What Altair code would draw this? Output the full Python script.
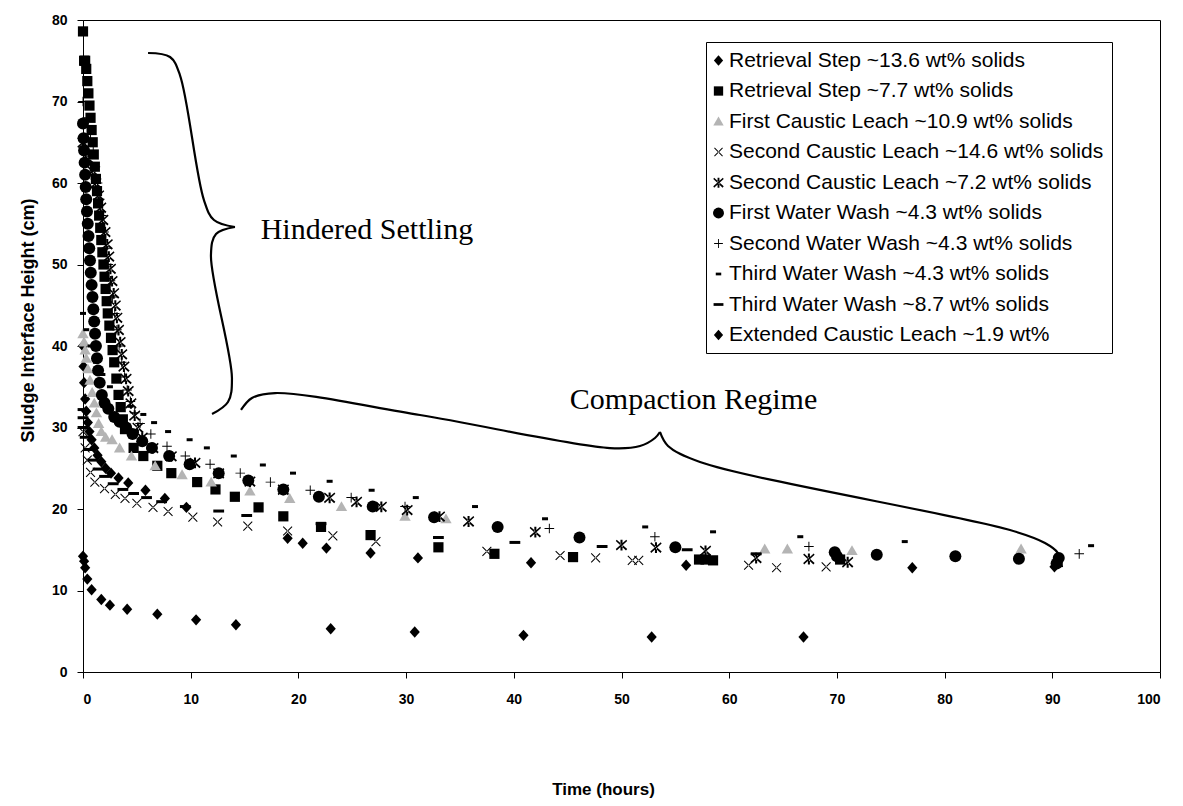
import altair as alt
import pandas as pd

# ---------------- series data (time in hours, height in cm) ----------------
NAMES = [
    "Retrieval Step ~13.6 wt% solids",
    "Retrieval Step ~7.7 wt% solids",
    "First Caustic Leach ~10.9 wt% solids",
    "Second Caustic Leach ~14.6 wt% solids",
    "Second Caustic Leach ~7.2 wt% solids",
    "First Water Wash ~4.3 wt% solids",
    "Second Water Wash ~4.3 wt% solids",
    "Third Water Wash ~4.3 wt% solids",
    "Third Water Wash ~8.7 wt% solids",
    "Extended Caustic Leach ~1.9 wt%",
]

RS136_T = [0, 0.05, 0.1, 0.2, 0.3, 0.45, 0.6, 0.8, 1.05, 1.35, 1.7, 2.1, 2.6, 3.3, 4.2, 5.8, 7.6, 9.6,
           19, 20.4, 22.6, 26.7, 31.1, 41.6, 56, 77, 90.2]
RS136_H = [40, 37.5, 35.5, 33.5, 32, 30.6, 29.5, 28.5, 27.5, 26.6, 25.8, 25, 24.4, 23.8, 23.2, 22.3, 21.3, 20.2,
           16.4, 15.8, 15.2, 14.6, 14.0, 13.4, 13.1, 12.8, 12.9]

RS77_T = [0, 0.1, 0.2, 0.3, 0.4, 0.5, 0.6, 0.7, 0.8, 0.9, 1.0, 1.1, 1.2, 1.3, 1.4, 1.5, 1.6, 1.7, 1.8, 1.9,
          2.0, 2.1, 2.2, 2.3, 2.45, 2.6, 2.75, 2.9, 3.1, 3.3, 3.5, 3.7, 3.9, 4.7, 5.6, 6.9, 8.2, 10.6, 12.3,
          14.1, 16.3, 18.6, 22.1, 26.7, 33, 38.2, 45.5, 57.2, 57.8, 58.5, 70.3]
RS77_H = [78.6, 75, 75, 74, 72.5, 71, 69.5, 68, 66.5, 65, 63.5, 62, 60.5, 59, 57.5, 56, 54.5, 53, 51.5, 50,
          48.5, 47, 45.5, 44, 42.5, 41, 39.5, 38, 36, 34, 32.5, 31, 29.8, 27.5, 26.5, 25.3, 24.4, 23.3, 22.4,
          21.5, 20.2, 19.1, 17.8, 16.8, 15.3, 14.5, 14.1, 13.8, 13.8, 13.7, 13.8]

FCL_T = [0, 0.1, 0.2, 0.3, 0.45, 0.65, 0.85, 1.05, 1.25, 1.45, 1.7, 2.1, 2.7, 3.4, 4.5, 6.7, 9.2, 11.9, 15.5,
         19.2, 24, 29.9, 33.7, 63.3, 65.4, 71.4, 87.1]
FCL_H = [41.5, 40.5, 39.5, 38.5, 37.2, 35.8, 34.3, 33, 31.8, 30.5, 29.5, 28.8, 28.5, 27.5, 26.5, 25.3, 24.2,
         23.3, 22.2, 21.3, 20.3, 19.1, 18.8, 15.1, 15.1, 14.9, 15.1]

SCL146_T = [0, 0.2, 0.4, 0.7, 1.1, 2.0, 3.0, 3.9, 5.0, 6.5, 7.9, 10.2, 12.5, 15.3, 19.0, 23.2, 27.2, 37.5,
            44.3, 47.6, 51.0, 51.6, 61.8, 64.4, 69.0]
SCL146_H = [29.5, 27.5, 26, 24.5, 23.3, 22.5, 21.8, 21.3, 20.7, 20.2, 19.7, 19.0, 18.4, 17.9, 17.3, 16.7,
            16.0, 14.8, 14.3, 14.0, 13.7, 13.7, 13.1, 12.8, 12.9]

SCL72_T = [0, 0.5, 0.9, 1.2, 1.45, 1.65, 1.85, 2.05, 2.25, 2.4, 2.55, 2.7, 2.85, 3.0, 3.15, 3.3, 3.45, 3.6,
           3.8, 4.0, 4.2, 4.45, 4.8, 5.1, 5.5, 6.5, 8.2, 10.4, 12.6, 15.5, 18.6, 22.9, 25.4, 27.7, 30.1,
           33.1, 35.8, 42, 50, 53.2, 57.8, 62.5, 67.4, 71]
SCL72_H = [65, 63, 61.5, 60, 58.5, 57, 55.5, 54, 52.5, 51, 49.5, 48, 46.5, 45, 43.5, 42, 40.5, 39, 37.5, 36,
           34.5, 33, 31.5, 30, 28.8, 27.5, 26.5, 25.7, 24.4, 23.4, 22.4, 21.4, 20.9, 20.3, 19.9, 19.1, 18.5,
           17.2, 15.6, 15.3, 14.9, 14.0, 13.9, 13.5]

FWW_T = [0, 0.05, 0.1, 0.15, 0.2, 0.25, 0.3, 0.37, 0.44, 0.51, 0.58, 0.65, 0.72, 0.8, 0.88, 0.96, 1.04, 1.12,
         1.2, 1.3, 1.4, 1.55, 1.75, 2.0, 2.35, 2.9, 3.4, 4.0, 4.6, 5.5, 6.4, 8.0, 9.9, 12.6, 15.35, 18.6,
         21.9, 26.9, 32.6, 38.5, 46.1, 55, 69.8, 70, 73.7, 81, 86.9, 90.6, 90.4]
FWW_H = [67.3, 65.5, 64, 62.5, 61, 59.5, 58, 56.5, 55, 53.5, 52, 50.5, 49, 47.5, 46, 44.5, 43, 41.5, 40,
         38.5, 37, 35.5, 34, 33, 32.3, 31.3, 30.7, 30, 29.2, 28.3, 27.5, 26.5, 25.5, 24.4, 23.5, 22.4, 21.5,
         20.3, 19.0, 17.8, 16.5, 15.3, 14.7, 14.2, 14.4, 14.2, 13.9, 14.0, 13.3]

SWW_T = [0, 0.4, 0.7, 0.95, 1.15, 1.35, 1.55, 1.75, 1.95, 2.15, 2.35, 2.55, 2.75, 2.95, 3.15, 3.35, 3.6,
         3.85, 4.1, 4.4, 4.8, 5.3, 6.3, 7.8, 9.5, 11.8, 14.6, 17.4, 21.1, 24.9, 29.9, 43.3, 53.1, 67.4, 92.5]
SWW_H = [70, 68, 66, 64, 62, 60, 58, 56, 54, 52, 50, 48, 46, 44, 42, 40, 38, 36.2, 34.6, 33.2, 31.8, 30.5,
         29.2, 27.7, 26.5, 25.5, 24.4, 23.3, 22.3, 21.4, 20.3, 17.6, 16.6, 15.4, 14.5]

TWW43_T = [0, 0.3, 0.7, 1.2, 1.8, 2.5, 3.3, 4.4, 5.6, 6.6, 7.9, 9.9, 11.5, 14, 16.7, 19.5, 22.9, 26.8, 30.9,
           36.4, 42.9, 52.2, 58.5, 66.6, 76.3, 93.6]
TWW43_H = [44, 42, 40, 38, 36.5, 35, 33.7, 32.6, 31.6, 30.6, 29.5, 28.5, 27.5, 26.5, 25.4, 24.4, 23.4, 22.3,
           21.4, 20.3, 18.8, 17.8, 17.2, 16.6, 16.0, 15.5]

TWW87_T = [0, 0, 0, 0.2, 0.5, 0.9, 1.4, 2, 2.8, 3.7, 4.7, 5.9, 7.3, 9.5, 12.6, 15.2, 22.1, 33, 40.1, 48.2,
           56.1, 62.5]
TWW87_H = [32.2, 31.2, 30, 28.8, 27.3, 26, 24.9, 24, 23.1, 22.4, 21.9, 21.4, 20.9, 20.3, 19.75, 19.2, 18.2,
           16.5, 15.9, 15.4, 15.0, 14.5]

ECL_T = [0, 0.1, 0.2, 0.4, 0.8, 1.7, 2.5, 4.1, 6.9, 10.5, 14.2, 23, 30.8, 40.9, 52.8, 66.9]
ECL_H = [14.2, 13.6, 12.8, 11.4, 10.1, 8.9, 8.2, 7.7, 7.1, 6.4, 5.8, 5.3, 4.9, 4.5, 4.3, 4.3]

SERIES_T = [RS136_T, RS77_T, FCL_T, SCL146_T, SCL72_T, FWW_T, SWW_T, TWW43_T, TWW87_T, ECL_T]
SERIES_H = [RS136_H, RS77_H, FCL_H, SCL146_H, SCL72_H, FWW_H, SWW_H, TWW43_H, TWW87_H, ECL_H]

# marker glyphs (unit paths) and colours
SHAPES = [
    "M0,-0.95L0.85,0L0,0.95L-0.85,0Z",
    "M-0.85,-0.85L0.85,-0.85L0.85,0.85L-0.85,0.85Z",
    "M0,-0.9L0.95,0.75L-0.95,0.75Z",
    "M-0.68,-0.8L-0.8,-0.68L0.68,0.8L0.8,0.68Z M0.8,-0.68L-0.68,0.8L-0.8,0.68L0.68,-0.8Z",
    "M-0.8,-0.85L-0.95,-0.65L0.75,0.95L0.95,0.7Z M0.95,-0.65L-0.8,0.95L-0.95,0.7L0.8,-0.85Z M-0.17,-0.85L0.17,-0.85L0.17,0.95L-0.17,0.95Z",
    "circle",
    "M-0.8,-0.08L0.8,-0.08L0.8,0.08L-0.8,0.08Z M-0.08,-0.8L0.08,-0.8L0.08,0.8L-0.08,0.8Z",
    "M-0.5,-0.25L0.5,-0.25L0.5,0.25L-0.5,0.25Z",
    "M-0.9,-0.25L0.9,-0.25L0.9,0.25L-0.9,0.25Z",
    "M0,-0.95L0.85,0L0,0.95L-0.85,0Z",
]
COLORS = ["#000000", "#000000", "#b4b4b4", "#000000", "#000000", "#000000", "#000000", "#000000",
          "#000000", "#000000"]

# brace annotations (data units)
BRACE1_T = [6.04, 8.08, 9.0, 11.23, 12.16, 14.11]
BRACE1_H = [75.95, 75.46, 73.25, 57.9, 55.46, 54.6]
BRACE1B_T = [14.11, 12.35, 11.88, 13.83, 13.46, 11.98]
BRACE1B_H = [54.6, 53.74, 51.17, 36.07, 33.13, 31.66]
BRACE2_T = [14.67, 15.69, 17.83, 31.29, 48.93, 51.72, 53.11, 53.57]
BRACE2_H = [32.15, 33.62, 34.23, 31.53, 27.48, 27.73, 28.71, 29.45]
BRACE2B_T = [53.57, 54.32, 57.29, 86.07, 89.32, 90.53, 90.9]
BRACE2B_H = [29.45, 27.73, 25.77, 17.42, 15.83, 14.6, 12.88]

LABELS = ["Hindered Settling", "Compaction  Regime"]
LABEL_T = [16.5, 45.2]
LABEL_H = [54.2, 33.4]

# ---------------- build tables ----------------
rows = []
for name, ts, hs in zip(NAMES, SERIES_T, SERIES_H):
    for t, h in zip(ts, hs):
        rows.append({"series": name, "t": t, "h": h})
pts = pd.DataFrame(rows)

brows = []
for part, (ts, hs) in enumerate([(BRACE1_T, BRACE1_H), (BRACE1B_T, BRACE1B_H),
                                  (BRACE2_T, BRACE2_H), (BRACE2B_T, BRACE2B_H)]):
    for i, (t, h) in enumerate(zip(ts, hs)):
        brows.append({"part": part, "i": i, "t": t, "h": h})
braces = pd.DataFrame(brows)

labels = pd.DataFrame({"label": LABELS, "t": LABEL_T, "h": LABEL_H})

FONT = "Liberation Sans"

x_scale = alt.Scale(domain=[0, 100], nice=False)
y_scale = alt.Scale(domain=[0, 80], nice=False)

legend = alt.Legend(
    title=None, orient="none", legendX=623, legendY=22,
    fillColor="white", strokeColor="black", padding=8,
    labelFont=FONT, labelFontSize=21, labelColor="black", labelLimit=0,
    rowPadding=8.5, symbolSize=120, symbolStrokeWidth=0, symbolOffset=-6, labelOffset=0,
)

points = alt.Chart(pts).mark_point(filled=True, size=144, opacity=1, strokeWidth=0).encode(
    x=alt.X("t:Q", scale=x_scale, axis=alt.Axis(
        title="Time (hours)", values=list(range(0, 101, 10)), grid=False, domainColor="black",
        tickColor="black", tickSize=6, labelFont=FONT, labelFontSize=14, labelFontWeight="bold",
        labelColor="black", labelPadding=14, titleFont=FONT, titleFontSize=17, titleFontWeight="bold",
        titleColor="black", titlePadding=75, titleX=520)),
    y=alt.Y("h:Q", scale=y_scale, axis=alt.Axis(
        title="Sludge Interface Height (cm)", values=list(range(0, 81, 10)), grid=False,
        domainColor="black", tickColor="black", tickSize=6, labelFont=FONT, labelFontSize=14,
        labelFontWeight="bold", labelColor="black", labelPadding=10, titleFont=FONT, titleFontSize=18,
        titleFontWeight="bold", titleColor="black", titlePadding=14, titleY=300)),
    shape=alt.Shape("series:N", scale=alt.Scale(domain=NAMES, range=SHAPES), legend=legend),
    color=alt.Color("series:N", scale=alt.Scale(domain=NAMES, range=COLORS), legend=legend),
)

brace_lines = alt.Chart(braces).mark_line(color="black", strokeWidth=2.2, interpolate="catmull-rom").encode(
    x=alt.X("t:Q", scale=x_scale),
    y=alt.Y("h:Q", scale=y_scale),
    detail="part:N",
    order="i:Q",
)

texts = alt.Chart(labels).mark_text(
    font="Liberation Serif", fontSize=30, align="left", baseline="middle", color="black"
).encode(
    x=alt.X("t:Q", scale=x_scale),
    y=alt.Y("h:Q", scale=y_scale),
    text="label:N",
)

chart = alt.layer(brace_lines, texts, points).properties(
    width=1077, height=652,
    autosize=alt.AutoSizeParams(type="none"),
    padding={"left": 83, "top": 20, "right": 23, "bottom": 134},
    background="white",
).configure_view(stroke="black", strokeWidth=1)

chart.save("out.html", embed_options={"renderer": "svg", "actions": False})
